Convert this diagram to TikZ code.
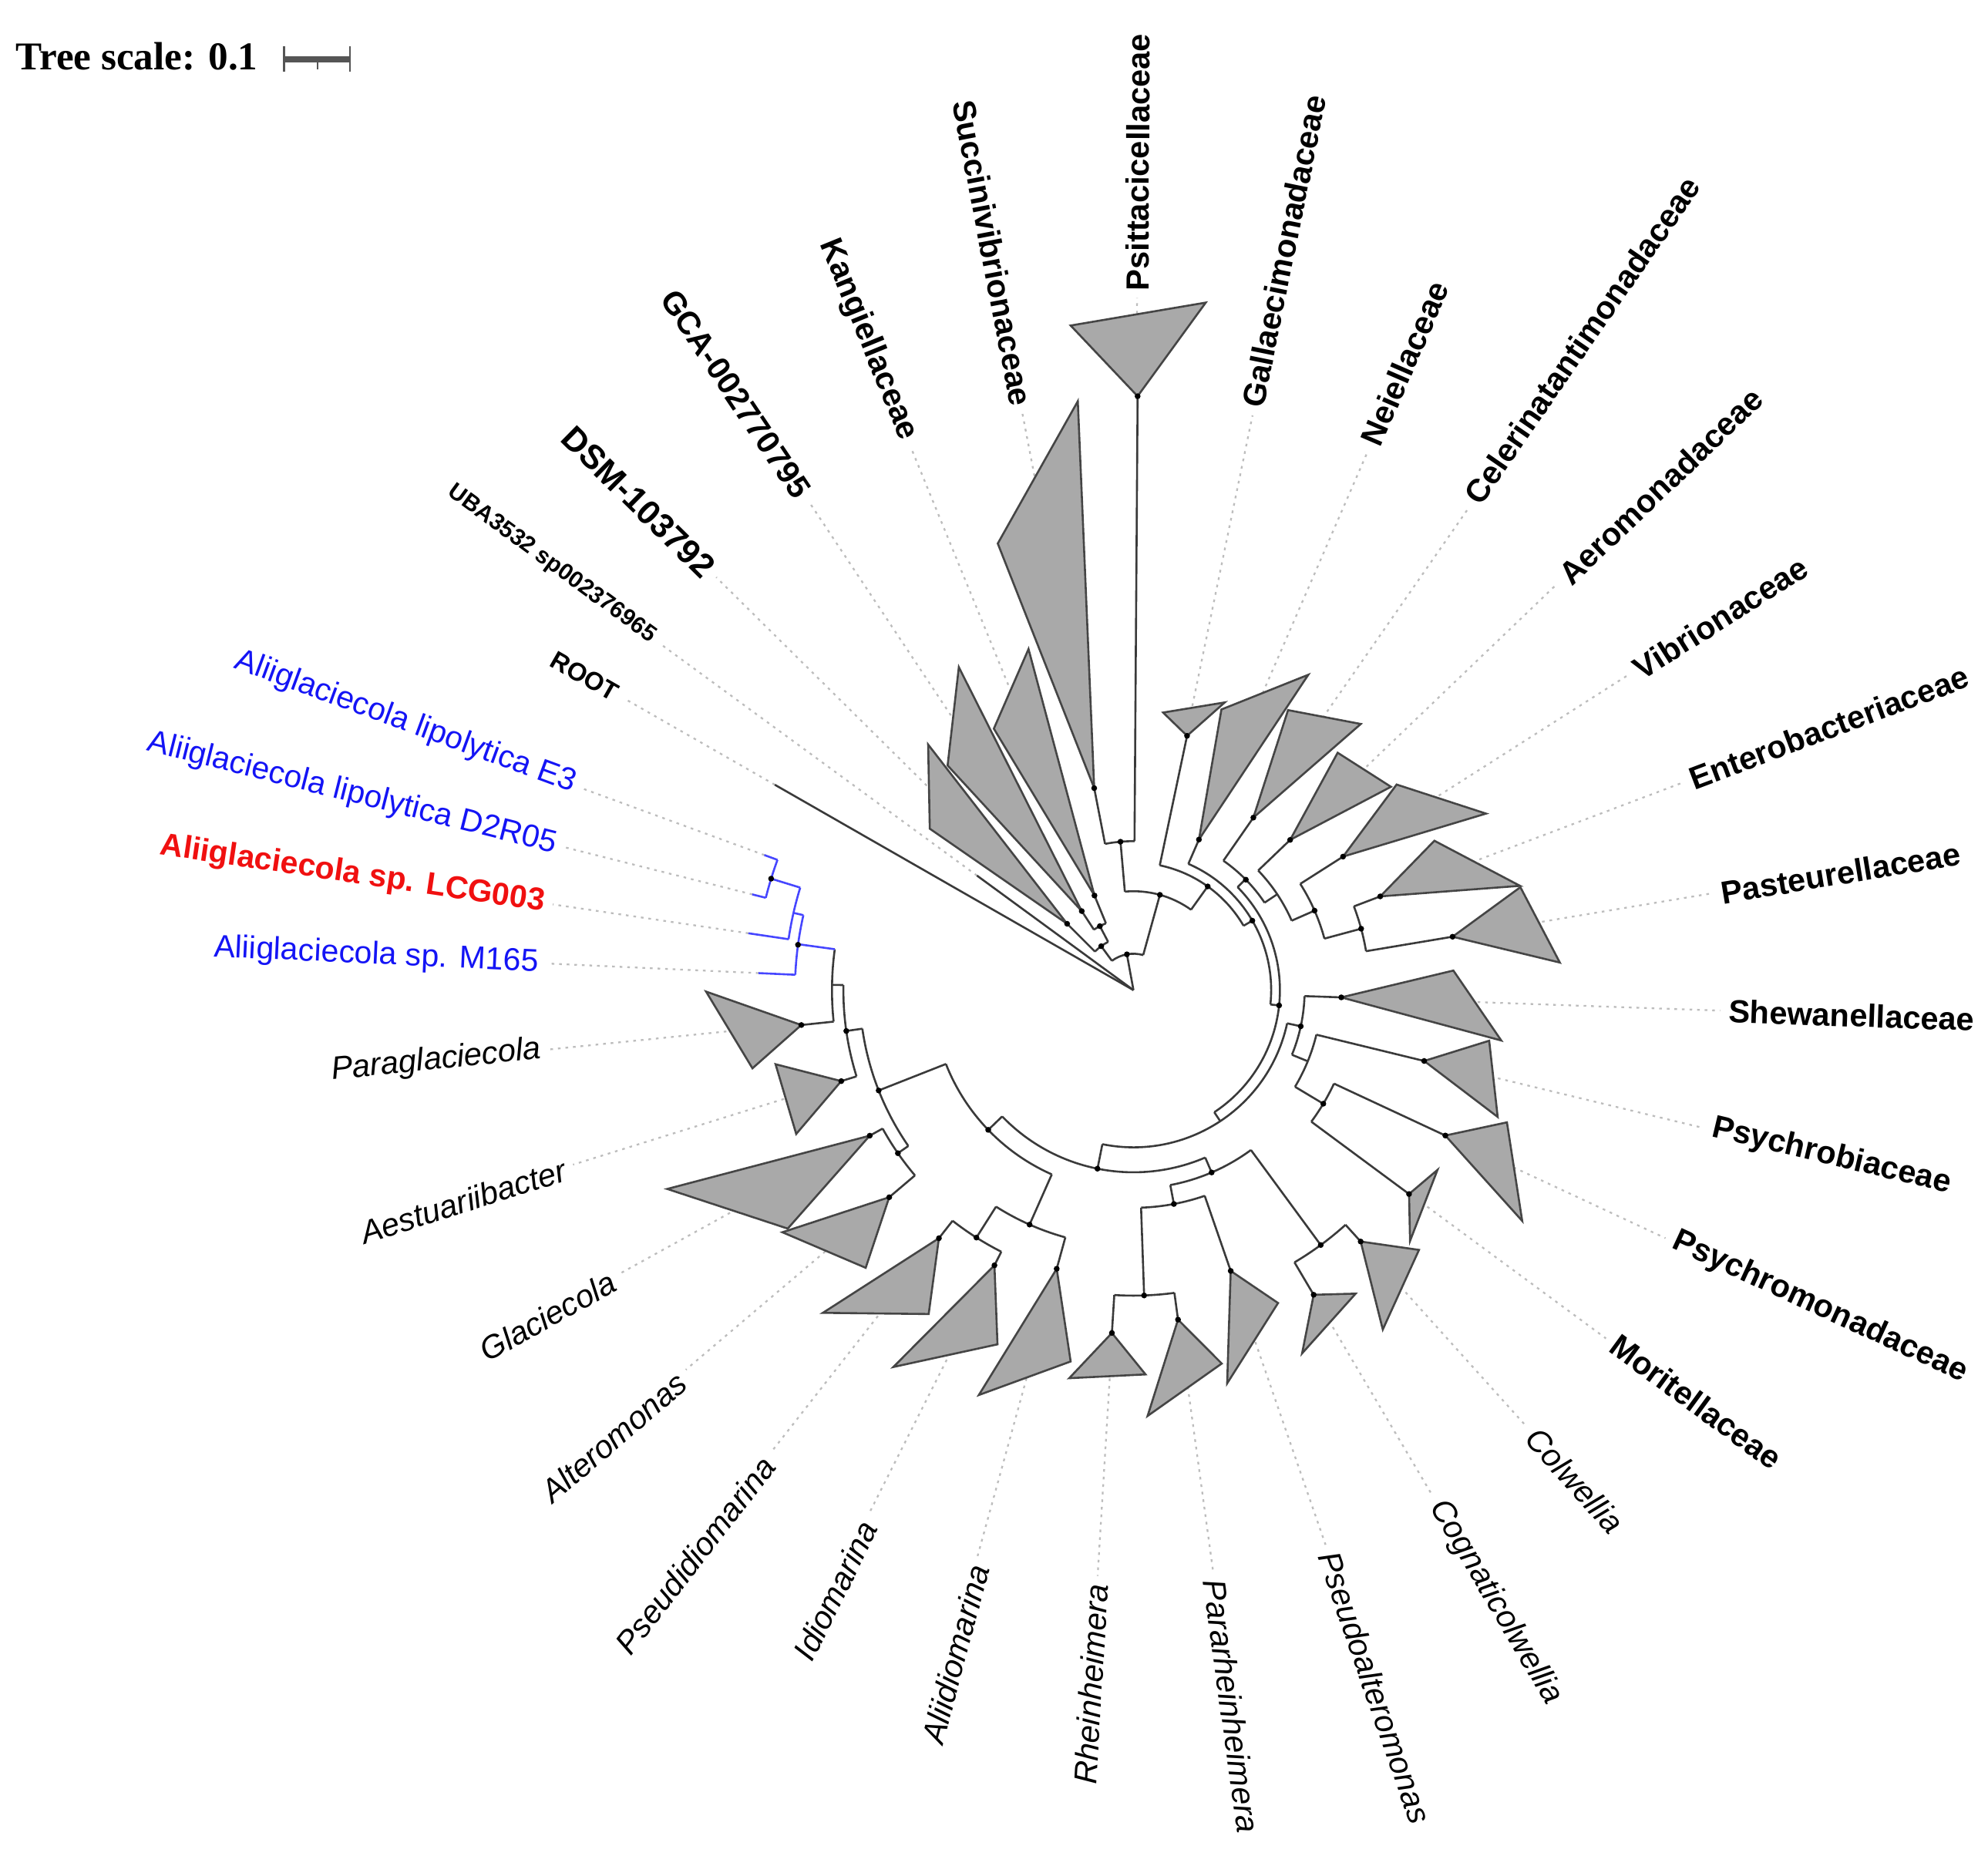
\documentclass[tikz,border=0pt]{standalone}
\usepackage{fontspec}
\setmainfont{Liberation Sans}
\newfontfamily\timesfont{Liberation Serif}
\definecolor{treeline}{HTML}{3A3A3A}
\definecolor{trifill}{HTML}{A9A9A9}
\definecolor{tristroke}{HTML}{454545}
\definecolor{dotline}{HTML}{BDBDBD}
\definecolor{bluetx}{HTML}{1414F5}
\definecolor{blueline}{HTML}{4646FF}
\definecolor{redtx}{HTML}{F01010}
\definecolor{barcol}{HTML}{555555}
\newcommand{\tEdge}[3]{\draw[branch] (-#1:#2) -- (-#1:#3);}
\newcommand{\bEdge}[3]{\draw[bbranch] (-#1:#2) -- (-#1:#3);}
\newcommand{\tArc}[3]{\draw[branch] (-#1:#3) arc[start angle=-#1, end angle=-#2, radius=#3];}
\newcommand{\bArc}[3]{\draw[bbranch] (-#1:#3) arc[start angle=-#1, end angle=-#2, radius=#3];}
\newcommand{\tTri}[6]{\path[clade] (-#1:#2) -- (-#3:#4) -- (-#5:#6) -- cycle;}
\newcommand{\tDot}[2]{\fill[nodedot] (-#1:#2) circle[radius=2.3];}
\newcommand{\tLead}[3]{\draw[leader] (-#1:#2) -- (-#1:#3);}
\newcommand{\labR}[5]{\node[#4,anchor=west,rotate=-#2,inner sep=0pt] (#1) at (-#2:#3) {#5};}
\newcommand{\labL}[5]{\node[#4,anchor=east,rotate={180-#2},inner sep=0pt] (#1) at (-#2:#3) {#5};}
\begin{document}
\begin{tikzpicture}[x=0.1mm,y=0.1mm,
  branch/.style={draw=treeline, line width=0.45pt, line join=round},
  bbranch/.style={draw=blueline, line width=0.45pt, line join=round},
  clade/.style={fill=trifill, draw=tristroke, line width=0.45pt, line join=miter},
  leader/.style={draw=dotline, line width=0.4pt, dash pattern=on 0.6pt off 1.1pt},
  nodedot/.style={fill=black},
  fam/.style={font=\bfseries\fontsize{7.2}{8.6}\selectfont},
  famL/.style={font=\bfseries\fontsize{7.6}{9}\selectfont},
  smallb/.style={font=\bfseries\fontsize{5.7}{7}\selectfont},
  tinyb/.style={font=\bfseries\fontsize{5.2}{6.5}\selectfont},
  gen/.style={font=\itshape\fontsize{7.2}{8.6}\selectfont},
  bl/.style={font=\fontsize{7.1}{8.6}\selectfont, text=bluetx},
  rd/.style={font=\bfseries\fontsize{7.1}{8.6}\selectfont, text=redtx}]
\useasboundingbox (0,0) rectangle (1568,-1464);

% ---- tree scale ----
\node[font=\timesfont\bfseries\fontsize{8.85}{10}\selectfont, anchor=base west, inner sep=0pt] (scaletext) at (12,-55) {Tree scale: 0.1};
\draw[barcol, line width=1.4pt] (224,-47) -- (276,-47);
\draw[barcol, line width=0.5pt] (224,-36.5) -- (224,-56.3);
\draw[barcol, line width=0.5pt] (276,-36.5) -- (276,-56.3);
\draw[barcol, line width=0.4pt] (250.3,-47) -- (250.3,-54.7);

\begin{scope}[shift={(894,-781)}]
% ---- leader lines ----
\tLead{209.8}{326}{463}
\tLead{216.2}{153}{463}
\tLead{224.7}{74}{463}
\tLead{236.4}{75}{463}
\tLead{247.7}{81}{463}
\tLead{259.1}{162}{463}
\tLead{270.3}{468}{546}
\tLead{281.7}{205}{463}
\tLead{293.5}{130}{463}
\tLead{304.8}{166}{463}
\tLead{316.2}{171}{463}
\tLead{327.5}{196}{463}
\tLead{339.3}{208}{463}
\tLead{350.5}{255}{463}
\tLead{2}{164}{463}
\tLead{13.6}{236}{463}
\tLead{25}{271}{463}
\tLead{36.4}{270}{463}
\tLead{48}{267}{463}
\tLead{59.4}{279}{463}
\tLead{70.9}{234}{463}
\tLead{82.2}{262}{463}
\tLead{93.5}{271}{463}
\tLead{105.4}{228}{463}
\tLead{116.8}{243}{463}
\tLead{128.1}{249}{463}
\tLead{139.7}{253}{463}
\tLead{151.1}{238}{463}
\tLead{162.7}{241}{463}
\tLead{174.2}{263}{463}
\tLead{182.6}{296}{463}
\tLead{188.4}{307}{463}
\tLead{194.1}{310}{463}
\tLead{200.1}{310}{463}

% ---- branches ----
\tEdge{209.8}{0}{326}
\tEdge{216.2}{0}{153}
\tEdge{259.6}{0}{28.7}
\tArc{233.7}{285.5}{28.7}
\tEdge{233.7}{28.7}{43}
\tArc{225}{242.3}{43}
\tEdge{225}{43}{74}
\tEdge{242.3}{43}{57}
\tArc{236.8}{247.6}{57}
\tEdge{236.8}{57}{74.5}
\tEdge{247.6}{57}{80.7}
\tEdge{285.5}{28.7}{78}
\tArc{265}{305.6}{78}
\tEdge{265}{78}{117.5}
\tArc{259}{270.4}{117.5}
\tEdge{259}{117.5}{162.3}
\tEdge{270.4}{117.5}{468.5}
\tEdge{305.6}{78}{100.6}
\tArc{281.9}{329.7}{100.6}
\tEdge{281.9}{100.6}{205}
\tEdge{329.7}{100.6}{108.6}
\tArc{293.5}{366}{108.6}
\tEdge{293.5}{108.6}{129.5}
\tEdge{366}{108.6}{115.5}
\tArc{315.3}{416.5}{115.5}
\tEdge{315.3}{115.5}{124.3}
\tArc{304.8}{326.3}{124.3}
\tEdge{304.8}{124.3}{165.7}
\tEdge{326.3}{124.3}{136.3}
\tArc{316.2}{336.3}{136.3}
\tEdge{316.2}{136.3}{171.2}
\tEdge{336.3}{136.3}{156}
\tArc{327.5}{344.9}{156}
\tEdge{327.5}{156}{196}
\tEdge{344.9}{156}{186}
\tArc{339.2}{350.5}{186}
\tEdge{339.2}{186}{208.2}
\tEdge{350.5}{186}{255.2}
\tEdge{416.5}{115.5}{124}
\tArc{12.2}{101.4}{124}
\tEdge{12.2}{124}{135}
\tArc{2}{22.2}{135}
\tEdge{2}{135}{164}
\tEdge{22.2}{135}{148.5}
\tArc{13.7}{30.9}{148.5}
\tEdge{13.7}{148.5}{236}
\tEdge{30.9}{148.5}{174.5}
\tArc{25}{36.5}{174.5}
\tEdge{25}{174.5}{271.4}
\tEdge{36.5}{174.5}{270.4}
\tEdge{101.4}{124}{143.7}
\tArc{66.8}{136.1}{143.7}
\tEdge{66.8}{143.7}{156.5}
\tArc{53.7}{79.3}{156.5}
\tEdge{53.7}{156.5}{249.5}
\tArc{47.9}{59.4}{249.5}
\tEdge{47.9}{249.5}{267.3}
\tEdge{59.4}{249.5}{279.2}
\tEdge{79.3}{156.5}{171.7}
\tArc{70.9}{88}{171.7}
\tEdge{70.9}{171.7}{234.4}
\tEdge{88}{171.7}{241}
\tArc{82.3}{93.6}{241}
\tEdge{82.3}{241}{262.3}
\tEdge{93.6}{241}{271}
\tEdge{136.1}{143.7}{159}
\tArc{113.9}{158.5}{159}
\tEdge{113.9}{159}{202.3}
\tArc{105.4}{122.4}{202.3}
\tEdge{105.4}{202.3}{228}
\tEdge{122.4}{202.3}{231.2}
\tArc{116.8}{128.1}{231.2}
\tEdge{116.8}{231.2}{243.2}
\tEdge{128.1}{231.2}{248.7}
\tEdge{158.5}{159}{216}
\tArc{145.3}{171.9}{216}
\tEdge{145.3}{216}{226}
\tArc{139.7}{151.1}{226}
\tEdge{139.7}{226}{252.6}
\tEdge{151.1}{226}{237.6}
\tEdge{171.9}{216}{228.8}
\tArc{162.7}{181}{228.8}
\tEdge{162.7}{228.8}{241.4}
\tEdge{181}{228.8}{237.8}
\tArc{174}{187.8}{237.8}
\tEdge{174}{237.8}{263.4}
\bEdge{187.8}{237.8}{267}
\bArc{182.6}{192.8}{267}
\bEdge{182.6}{267}{296}
\bEdge{192.8}{267}{275}
\bArc{188.4}{197.1}{275}
\bEdge{188.4}{275}{307}
\bEdge{197.1}{275}{299}
\bArc{194.1}{200.1}{299}
\bEdge{194.1}{299}{310}
\bEdge{200.1}{299}{310}

% ---- collapsed clades ----
\tTri{225}{74}{218.4}{205}{230.1}{252.5}
\tTri{236.8}{74.5}{230.4}{230}{241.6}{289.6}
\tTri{247.6}{80.7}{241.9}{233.8}{252.9}{281.5}
\tTri{259}{162.3}{253.1}{368.2}{264.6}{466.6}
\tTri{270.4}{468.5}{264.6}{526.6}{276}{545.3}
\tTri{281.9}{205}{276.1}{220.2}{287.6}{238.1}
\tTri{293.5}{129.5}{287.4}{232}{299}{284.4}
\tTri{304.8}{165.7}{298.9}{252.3}{310.5}{276.1}
\tTri{316.2}{171.2}{310.7}{247}{321.7}{258.8}
\tTri{327.5}{196}{322}{263.4}{333.4}{311}
\tTri{339.2}{208.2}{333.6}{265}{344.9}{315.8}
\tTri{350.5}{255.2}{345.1}{315.8}{356.3}{337}
\tTri{2}{164}{356.5}{252.8}{7.8}{292.8}
\tTri{13.7}{236}{8.1}{283.4}{19.2}{304.2}
\tTri{25}{271.4}{19.5}{312.5}{30.7}{356.6}
\tTri{36.5}{270.4}{30.6}{278.6}{42.2}{294.5}
\tTri{47.9}{267.3}{42.3}{304.5}{53.7}{332.2}
\tTri{59.4}{279.2}{53.8}{296.7}{65.1}{315.9}
\tTri{70.9}{234.4}{65.2}{271.9}{76.6}{318.9}
\tTri{82.3}{262.3}{76.7}{302.7}{88.1}{336.1}
\tTri{93.6}{271}{88.2}{303.3}{99.4}{310.3}
\tTri{105.4}{228}{99.6}{297.1}{110.9}{341.9}
\tTri{116.8}{243.2}{111}{299.3}{122.5}{352.5}
\tTri{128.1}{248.7}{122.3}{302.3}{133.9}{353.3}
\tTri{139.7}{252.6}{133.96}{304.3}{145.4}{336.4}
\tTri{151.1}{237.6}{145.4}{331.3}{156.9}{399.8}
\tTri{162.7}{241.4}{156.9}{289.2}{168.3}{288.3}
\tTri{174}{263.4}{168.4}{306.8}{179.8}{337.1}

% ---- node dots ----
\tDot{259.6}{28.7}\tDot{233.7}{43}\tDot{242.3}{57}
\tDot{225}{74}\tDot{236.8}{74.5}\tDot{247.6}{80.7}
\tDot{265}{117.5}\tDot{259}{162.3}\tDot{270.4}{468.5}
\tDot{285.5}{78}\tDot{305.6}{100.6}\tDot{281.9}{205}
\tDot{329.7}{108.6}\tDot{293.5}{129.5}\tDot{6}{115.5}
\tDot{315.5}{124.3}\tDot{304.8}{165.7}\tDot{316.2}{171.2}
\tDot{336.3}{156}\tDot{327.5}{196}\tDot{344.9}{186}
\tDot{339.2}{208.2}\tDot{350.5}{255.2}
\tDot{12.2}{135}\tDot{2}{164}\tDot{13.7}{236}
\tDot{30.9}{174.5}\tDot{25}{271.4}\tDot{36.5}{270.4}
\tDot{101.4}{143.7}\tDot{66.8}{156.5}\tDot{53.7}{249.5}
\tDot{47.9}{267.3}\tDot{59.4}{279.2}\tDot{79.3}{171.7}
\tDot{70.9}{234.4}\tDot{88}{241}\tDot{82.3}{262.3}\tDot{93.6}{271}
\tDot{136.1}{159}\tDot{113.9}{202.3}\tDot{105.4}{228}
\tDot{122.4}{231.2}\tDot{116.8}{243.2}\tDot{128.1}{248.7}
\tDot{158.5}{216}\tDot{145.3}{226}\tDot{139.7}{252.6}\tDot{151.1}{237.6}
\tDot{171.9}{228.8}\tDot{162.7}{241.4}\tDot{174}{263.4}
\tDot{187.7}{267}\tDot{197.1}{299}

% ---- labels ----
\labL{lROOT}{209.8}{469}{smallb}{ROOT}
\labL{lUBA}{216.2}{469}{tinyb}{UBA3532 sp002376965}
\labL{lDSM}{224.6}{469}{famL}{DSM-103792}
\labL{lGCA}{236.3}{469}{fam}{GCA-002770795}
\labL{lKang}{247.8}{469}{fam}{Kangiellaceae}
\labL{lSucc}{259.2}{469}{fam}{Succinivibrionaceae}
\labR{lPsit}{270.3}{551}{fam}{Psittacicellaceae}
\labR{lGall}{281.5}{469}{fam}{Gallaecimonadaceae}
\labR{lNeie}{293.4}{469}{fam}{Neiellaceae}
\labR{lCele}{304.6}{469}{fam}{Celerinatantimonadaceae}
\labR{lAero}{316.3}{469}{fam}{Aeromonadaceae}
\labR{lVibr}{327.6}{469}{fam}{Vibrionaceae}
\labR{lEnte}{339.3}{469}{fam}{Enterobacteriaceae}
\labR{lPast}{350.6}{469}{fam}{Pasteurellaceae}
\labR{lShew}{2}{469}{fam}{Shewanellaceae}
\labR{lPsyb}{13.4}{469}{fam}{Psychrobiaceae}
\labR{lPsym}{24.8}{469}{fam}{Psychromonadaceae}
\labR{lMori}{36.2}{469}{fam}{Moritellaceae}
\labR{lColw}{48}{469}{gen}{Colwellia}
\labR{lCogn}{59.4}{469}{gen}{Cognaticolwellia}
\labR{lPsal}{70.9}{469}{gen}{Pseudoalteromonas}
\labR{lPara}{82.2}{469}{gen}{Pararheinheimera}
\labL{lRhei}{93.5}{469}{gen}{Rheinheimera}
\labL{lAlid}{105}{469}{gen}{Aliidiomarina}
\labL{lIdio}{116.4}{469}{gen}{Idiomarina}
\labL{lPsid}{127.8}{469}{gen}{Pseudidiomarina}
\labL{lAlte}{139.3}{469}{gen}{Alteromonas}
\labL{lGlac}{150.9}{469}{gen}{Glaciecola}
\labL{lAest}{162.5}{469}{gen}{Aestuariibacter}
\labL{lPgla}{174.2}{469}{gen}{Paraglaciecola}
\labL{lM165}{182.6}{469}{bl}{Aliiglaciecola sp. M165}
\labL{lLCG}{188.4}{469}{rd}{Aliiglaciecola sp. LCG003}
\labL{lD2R}{194.1}{469}{bl}{Aliiglaciecola lipolytica D2R05}
\labL{lE3}{200.2}{469}{bl}{Aliiglaciecola lipolytica E3}
\end{scope}
\end{tikzpicture}
\end{document}
